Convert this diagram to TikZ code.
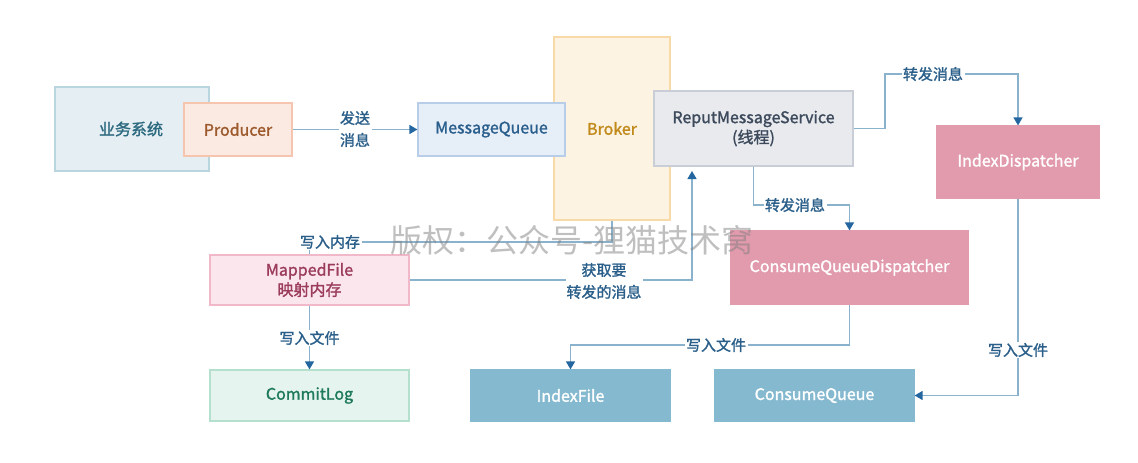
\documentclass[tikz,border=0pt]{standalone}
\usepackage{fontspec}
\setmainfont{Noto Sans CJK SC}[UprightFeatures={FakeBold=1.5}]
\newfontfamily\wmfont{Noto Sans CJK SC}
\usetikzlibrary{arrows.meta}
\definecolor{lnc}{HTML}{8AB2CC}
\definecolor{tipc}{HTML}{2466A0}
\definecolor{lblc}{HTML}{2A5F8A}
\definecolor{sysf}{HTML}{E5EEF2}
\definecolor{sysd}{HTML}{B9D6E0}
\definecolor{syst}{HTML}{2C6A80}
\definecolor{prodf}{HTML}{FBEAE2}
\definecolor{prodd}{HTML}{F5C5B0}
\definecolor{prodt}{HTML}{9C5A2C}
\definecolor{mqf}{HTML}{E6EEF8}
\definecolor{mqd}{HTML}{B8CDE8}
\definecolor{mqt}{HTML}{2A5E8C}
\definecolor{brf}{HTML}{FDF3E3}
\definecolor{brd}{HTML}{F8D9A8}
\definecolor{brt}{HTML}{C18A1A}
\definecolor{rmsf}{HTML}{E8EAEE}
\definecolor{rmsd}{HTML}{C8CDD6}
\definecolor{rmst}{HTML}{3C4A5C}
\definecolor{pinkf}{HTML}{E29AAD}
\definecolor{bluef}{HTML}{84B9CF}
\definecolor{mff}{HTML}{FAE6EC}
\definecolor{mfd}{HTML}{F0B8C8}
\definecolor{mft}{HTML}{9C3C5C}
\definecolor{clf}{HTML}{E5F4EE}
\definecolor{cld}{HTML}{B5E0CE}
\definecolor{clt}{HTML}{1E7A5A}
\tikzset{
  box/.style={draw, line width=1.2pt, inner sep=2pt, align=center, font=\fontsize{16}{20}\selectfont},
  conn/.style={draw=lnc, line width=1.3pt},
  arr/.style={conn, -{Triangle[length=8pt,width=9pt,color=tipc]}},
  lbl/.style={fill=white, inner sep=1.5pt, text=lblc, align=center, font=\fontsize{15}{22}\selectfont},
  wm/.style={text=gray, text opacity=0.5, font=\wmfont\fontsize{32}{36}\selectfont}
}
\begin{document}
\begin{tikzpicture}[x=1pt,y=-1pt]
\useasboundingbox (0,0) rectangle (1138,463);
% boxes
\node[box, draw=sysd, fill=sysf, text=syst, minimum width=154pt, minimum height=84pt, text width=140pt, align=left] (sys) at (132,129) {\hspace*{37pt}业务系统};
\node[box, draw=prodd, fill=prodf, text=prodt, minimum width=108pt, minimum height=53pt] (prod) at (238,129.5) {Producer};
\node[box, draw=brd, fill=brf, text=brt, minimum width=116pt, minimum height=183pt] (broker) at (612,128.5) {Broker};
\node[box, draw=mqd, fill=mqf, text=mqt, minimum width=147pt, minimum height=53pt] (mq) at (491.5,129.5) {MessageQueue};
\node[box, draw=rmsd, fill=rmsf, text=rmst, minimum width=199pt, minimum height=75pt] (rms) at (753.5,128.5) {ReputMessageService\\(线程)};
\node[box, draw=pinkf, fill=pinkf, text=white, minimum width=162pt, minimum height=72pt] (idx) at (1018,162) {IndexDispatcher};
\node[box, draw=pinkf, fill=pinkf, text=white, minimum width=237pt, minimum height=73pt] (cqd) at (849.5,267.5) {ConsumeQueueDispatcher};
\node[box, draw=bluef, fill=bluef, text=white, minimum width=199pt, minimum height=51pt] (ifile) at (570.5,395.5) {IndexFile};
\node[box, draw=bluef, fill=bluef, text=white, minimum width=199pt, minimum height=51pt] (cq) at (814.5,395.5) {ConsumeQueue};
\node[box, draw=mfd, fill=mff, text=mft, minimum width=199pt, minimum height=50pt] (mf) at (309.5,280) {MappedFile\\映射内存};
\node[box, draw=cld, fill=clf, text=clt, minimum width=199pt, minimum height=51pt] (cl) at (309.5,395.5) {CommitLog};
% coordinates
\coordinate (c1) at (885,74);
\coordinate (c2) at (753.5,205);
\coordinate (c3) at (849.5,345);
\coordinate (c4) at (612,242);
\coordinate (c5) at (309.5,242);
\coordinate (c6) at (692,171);
% connectors
\draw[arr] (prod.east) -- (mq.west);
\node[lbl] at (355,129) {发送\\消息};
\draw[arr] (rms.east) -| (c1) -| (idx.north);
\node[lbl] at (933,74) {转发消息};
\draw[arr] (rms.south) -- (c2) -| (cqd.north);
\node[lbl] at (795,205) {转发消息};
\draw[arr] (cqd.south) -- (c3) -| (ifile.north);
\node[lbl] at (716,345) {写入文件};
\draw[arr] (idx.south) |- (cq.east);
\node[lbl] at (1018,350) {写入文件};
\draw[arr] (mf.south) -- (cl.north);
\node[lbl] at (309.5,338) {写入文件};
\draw[conn] (broker.south) -- (c4) -- (c5) -- (mf.north);
\node[lbl] at (330,242) {写入内存};
\draw[arr] (mf.east) -| (c6);
\node[lbl, inner sep=1pt] at (604,281) {获取要\\转发的消息};
% watermark
\node[wm] (wmk) at (572,240) {版权：公众号-狸猫技术窝};
\end{tikzpicture}
\end{document}
